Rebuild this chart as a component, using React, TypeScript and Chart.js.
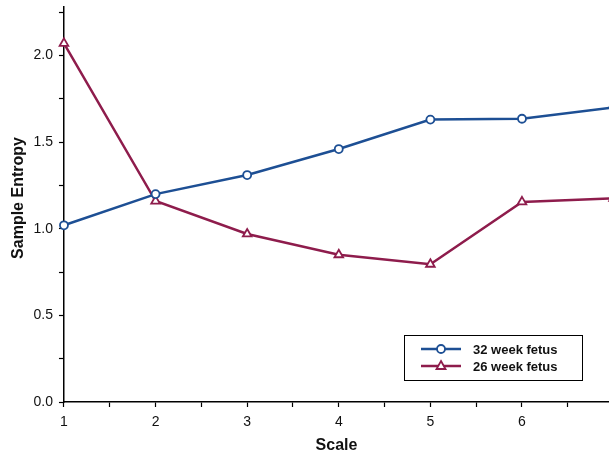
import React, { useEffect, useRef } from "react";
import { Chart, registerables } from "chart.js";

Chart.register(...registerables);

const scales = [1, 2, 3, 4, 5, 6, 7];
const week32 = [1.02, 1.2, 1.31, 1.46, 1.63, 1.635, 1.7];
const week26 = [2.07, 1.16, 0.97, 0.85, 0.795, 1.155, 1.175];
const seriesNames = ["32 week fetus", "26 week fetus"];
const xTicks = [1, 1.5, 2, 2.5, 3, 3.5, 4, 4.5, 5, 5.5, 6, 6.5];
const yTicks = [0, 0.25, 0.5, 0.75, 1, 1.25, 1.5, 1.75, 2, 2.25];
const yTitle = "Sample Entropy";
const xTitle = "Scale";

const BLUE = "#1d4f94";
const RED = "#8e1c4c";
const FONT = "'Liberation Sans', Arial, sans-serif";

const yTitlePlugin = {
  id: "yTitlePlugin",
  afterDraw(chart: any) {
    const ctx = chart.ctx;
    ctx.save();
    ctx.translate(18.5, 198);
    ctx.rotate(-Math.PI / 2);
    ctx.fillStyle = "#111";
    ctx.font = `bold 16px ${FONT}`;
    ctx.textAlign = "center";
    ctx.textBaseline = "middle";
    ctx.fillText(yTitle, 0, 0);
    ctx.restore();
  },
};

const boxLegend = {
  id: "boxLegend",
  afterDraw(chart: any) {
    const ctx = chart.ctx;
    const area = chart.chartArea;
    const x0 = 404;
    const y0 = area.bottom - 67;
    const w = 178;
    const h = 45;
    ctx.save();
    ctx.fillStyle = "#ffffff";
    ctx.fillRect(x0, y0, w, h);
    ctx.strokeStyle = "#000";
    ctx.lineWidth = 1;
    ctx.strokeRect(x0 + 0.5, y0 + 0.5, w, h);
    chart.data.datasets.forEach((ds: any, i: number) => {
      const y = y0 + 14 + i * 17;
      ctx.strokeStyle = ds.borderColor;
      ctx.lineWidth = 2.5;
      ctx.beginPath();
      ctx.moveTo(x0 + 17, y);
      ctx.lineTo(x0 + 57, y);
      ctx.stroke();
      ctx.fillStyle = "#fff";
      ctx.lineWidth = 1.8;
      const cx = x0 + 37;
      ctx.beginPath();
      if (ds.pointStyle === "triangle") {
        ctx.moveTo(cx, y - 5);
        ctx.lineTo(cx + 4.5, y + 3);
        ctx.lineTo(cx - 4.5, y + 3);
        ctx.closePath();
      } else {
        ctx.arc(cx, y, 4, 0, Math.PI * 2);
      }
      ctx.fill();
      ctx.stroke();
      ctx.fillStyle = "#111";
      ctx.font = `bold 13px ${FONT}`;
      ctx.textBaseline = "middle";
      ctx.textAlign = "left";
      ctx.fillText(ds.label, x0 + 69, y + 1);
    });
    ctx.restore();
  },
};

export default function App() {
  const ref = useRef<HTMLCanvasElement>(null);
  useEffect(() => {
    if (!ref.current) return;
    const chart = new Chart(ref.current, {
      type: "line",
      data: {
        datasets: [
          {
            label: seriesNames[0],
            data: scales.map((x, i) => ({ x, y: week32[i] })),
            borderColor: BLUE,
            backgroundColor: "#fff",
            borderWidth: 2.5,
            pointStyle: "circle",
            pointRadius: 4,
            pointBorderWidth: 1.8,
            pointBackgroundColor: "#fff",
            pointBorderColor: BLUE,
            clip: false as any,
          },
          {
            label: seriesNames[1],
            data: scales.map((x, i) => ({ x, y: week26[i] })),
            borderColor: RED,
            backgroundColor: "#fff",
            borderWidth: 2.5,
            pointStyle: "triangle",
            pointRadius: 5,
            pointBorderWidth: 1.8,
            pointBackgroundColor: "#fff",
            pointBorderColor: RED,
            clip: false as any,
          },
        ],
      },
      options: {
        animation: false,
        responsive: false,
        maintainAspectRatio: false,
        layout: { autoPadding: false, padding: { top: 7, right: 0, bottom: 0, left: 27.5 } },
        plugins: { legend: { display: false }, tooltip: { enabled: false } },
        scales: {
          x: {
            type: "linear",
            min: 1,
            max: 6.95,
            afterBuildTicks: (s: any) => {
              s.ticks = xTicks.map((v) => ({ value: v }));
            },
            afterFit: (s: any) => {
              s.paddingLeft = 0;
              s.paddingRight = 0;
            },
            ticks: {
              autoSkip: false,
              maxRotation: 0,
              color: "#111",
              font: { family: FONT, size: 14 },
              padding: 7,
              callback: (v: any) => (Number.isInteger(v) ? String(v) : ""),
            },
            grid: { drawOnChartArea: false, tickLength: 5, color: "#000", tickWidth: 1.2 },
            border: { color: "#000", width: 1.5 },
            title: {
              display: true,
              text: xTitle,
              color: "#111",
              font: { family: FONT, size: 16, weight: "bold" },
              padding: { top: -2, bottom: 0 },
            },
          },
          y: {
            type: "linear",
            min: 0,
            max: 2.28,
            afterBuildTicks: (s: any) => {
              s.ticks = yTicks.map((v) => ({ value: v }));
            },
            afterFit: (s: any) => {
              s.paddingTop = 0;
              s.paddingBottom = 0;
            },
            ticks: {
              autoSkip: false,
              color: "#111",
              font: { family: FONT, size: 14 },
              padding: 6,
              callback: (v: any) => (Math.abs(v * 2 - Math.round(v * 2)) < 1e-6 ? Number(v).toFixed(1) : ""),
            },
            grid: { drawOnChartArea: false, tickLength: 5, color: "#000", tickWidth: 1.2 },
            border: { color: "#000", width: 1.5 },
            title: { display: false },
          },
        },
      },
      plugins: [boxLegend, yTitlePlugin],
    });
    return () => chart.destroy();
  }, []);
  return (
    <div style={{ position: "absolute", left: 0, top: 0, width: 609, height: 455, background: "#fff" }}>
      <canvas ref={ref} width={609} height={455} style={{ display: "block" }} />
    </div>
  );
}
